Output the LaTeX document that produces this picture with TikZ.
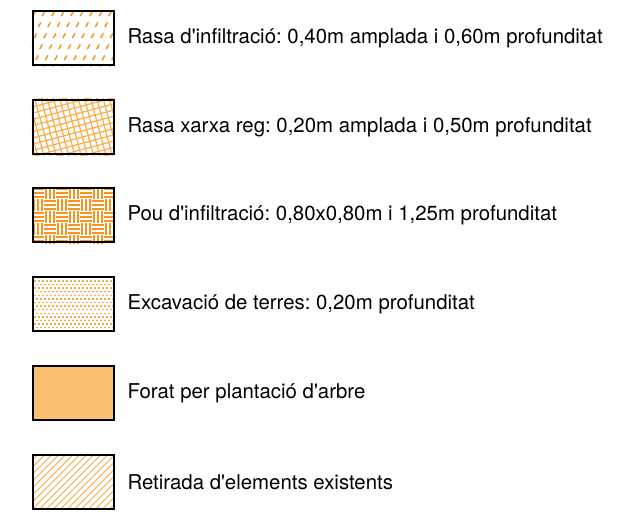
\documentclass[tikz,border=0pt]{standalone}
\usepackage{fontspec}
\setmainfont{TeX Gyre Heros}[Ligatures=TeXOff]
\usetikzlibrary{backgrounds}
\frenchspacing

\definecolor{hatchorange}{RGB}{247,148,30}
\definecolor{lightorange}{RGB}{250,172,70}
\definecolor{treefill}{RGB}{251,191,111}

\tikzset{every picture/.style={line width=0.75pt}}
\tikzset{
  legbox/.style={draw=black, line width=1.5pt, minimum width=61.1pt, minimum height=40.9pt, inner sep=0pt},
  legtext/.style={anchor=west, inner sep=0pt, font=\fontsize{15.3}{18}\selectfont},
  hatch/.style={draw=hatchorange, line width=1.1pt},
  gridline/.style={draw=lightorange, line width=0.9pt},
}

\begin{document}
\begin{tikzpicture}[x=0.75pt,y=0.75pt,yscale=-1,xscale=1]
\useasboundingbox (0,0) rectangle (620,517);

%Shape: Rectangle [id:rasa] 
\node (rasa) [legbox] at (73.5,38) {};
%Shape: Rectangle [id:xarxa] 
\node (xarxa) [legbox] at (73.5,127) {};
%Shape: Rectangle [id:pou] 
\node (pou) [legbox] at (73.5,215) {};
%Shape: Rectangle [id:excavacio] 
\node (excavacio) [legbox] at (73.5,304) {};
%Shape: Rectangle [id:forat] 
\node (forat) [legbox, fill=treefill] at (73.5,393) {};
%Shape: Rectangle [id:retirada] 
\node (retirada) [legbox] at (73.5,482) {};

\begin{scope}[on background layer]
% Dashes
\begin{scope}
\clip (rasa.north west) rectangle (rasa.south east);
\begin{scope}[shift={(rasa.north west)}]
\foreach \r in {0,...,5}
  \foreach \c in {0,...,11}
    \draw [hatch] ({\c*9.5-\r*4+1},{\r*11+6.3}) -- ++(2.6,-4.6);
\end{scope}
\end{scope}
% Grid
\begin{scope}
\clip (xarxa.north west) rectangle (xarxa.south east);
\begin{scope}[shift={(xarxa.center)}, rotate=-15]
\foreach \k in {-10,...,10} {
  \draw [gridline] (-60,\k*6) -- (60,\k*6);
  \draw [gridline] (\k*6,-60) -- (\k*6,60);
}
\end{scope}
\end{scope}
% Basket weave
\begin{scope}
\clip (pou.north west) rectangle (pou.south east);
\begin{scope}[shift={(pou.north west)}]
\foreach \i in {0,...,7}
  \foreach \j in {0,...,5} {
    \pgfmathparse{int(mod(\i+\j,2))}
    \ifnum\pgfmathresult=0
      \foreach \o in {2,6,10}
        \draw [hatch, line width=1.4pt] ({\i*12},{\j*12+\o}) -- ++(12,0);
    \else
      \foreach \o in {2,6,10}
        \draw [hatch, line width=1.4pt] ({\i*12+\o},{\j*12}) -- ++(0,12);
    \fi
  }
\end{scope}
\end{scope}
% Dots
\begin{scope}
\clip (excavacio.north west) rectangle (excavacio.south east);
\begin{scope}[shift={(excavacio.north west)}]
\foreach \r in {0,...,15} {
  \pgfmathparse{int(mod(\r,2))}
  \ifnum\pgfmathresult=0
    \draw [draw=lightorange, line width=1pt, dash pattern=on 1.5pt off 1.5pt] (0,{\r*3.6+1.5}) -- (85,{\r*3.6+1.5});
  \else
    \draw [draw=lightorange, line width=1pt, dash pattern=on 1.5pt off 1.5pt, dash phase=1.5pt] (0,{\r*3.6+1.5}) -- (85,{\r*3.6+1.5});
  \fi
}
\end{scope}
\end{scope}
% Diagonal hatch
\begin{scope}
\clip (retirada.north west) rectangle (retirada.south east);
\begin{scope}[shift={(retirada.north west)}]
\foreach \k in {-8,...,12}
  \draw [gridline, line width=0.75pt] ({\k*7},56) -- ++(56,-56);
\end{scope}
\end{scope}
\end{scope}

% Text Node
\node (rasatxt) [legtext] at (127,38) {Rasa d'infiltració: 0,40m amplada i 0,60m profunditat};
% Text Node
\node (xarxatxt) [legtext] at (127,127) {Rasa xarxa reg: 0,20m amplada i 0,50m profunditat};
% Text Node
\node (poutxt) [legtext] at (127,215) {Pou d'infiltració: 0,80x0,80m i 1,25m profunditat};
% Text Node
\node (excavaciotxt) [legtext] at (127,304) {Excavació de terres: 0,20m profunditat};
% Text Node
\node (forattxt) [legtext] at (127,393) {Forat per plantació d'arbre};
% Text Node
\node (retiradatxt) [legtext] at (127,482) {Retirada d'elements existents};

\end{tikzpicture}
\end{document}
